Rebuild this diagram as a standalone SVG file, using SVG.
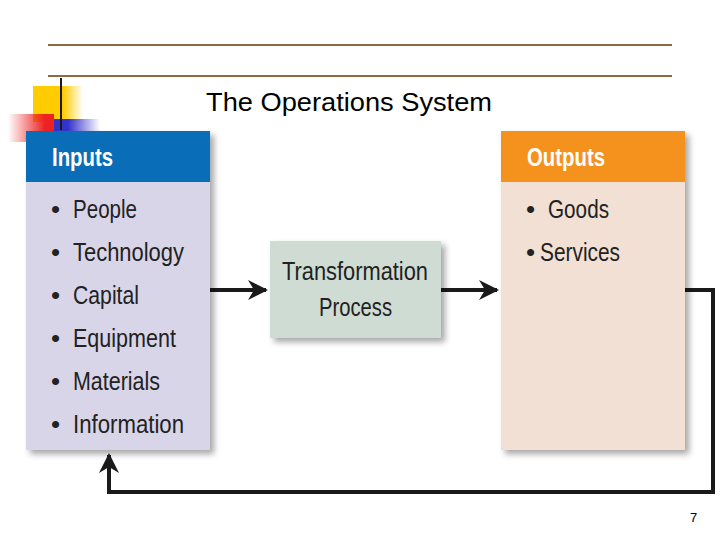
<svg xmlns="http://www.w3.org/2000/svg" width="720" height="540" viewBox="0 0 720 540">
<defs>
<style>
.hd{font-family:"Liberation Sans",Arial,sans-serif;font-weight:bold;font-size:25px;fill:#fff}
.it{font-family:"Liberation Sans",Arial,sans-serif;font-size:26px;fill:#222}
.ln{stroke:#1a1a1a;stroke-width:4;fill:none}
</style>
<linearGradient id="gy" x1="0" x2="1"><stop offset="0.6" stop-color="#ffcc00"/><stop offset="1" stop-color="#ffcc00" stop-opacity="0"/></linearGradient>
<linearGradient id="gr" x1="1" x2="0"><stop offset="0.2" stop-color="#ee2222"/><stop offset="1" stop-color="#ee2222" stop-opacity="0"/></linearGradient>
<linearGradient id="gb" x1="0" x2="1"><stop offset="0.3" stop-color="#3333cc"/><stop offset="1" stop-color="#3333cc" stop-opacity="0"/></linearGradient>
<filter id="sh" x="-10%" y="-10%" width="125%" height="125%"><feDropShadow dx="4" dy="4" stdDeviation="3" flood-color="#000" flood-opacity="0.35"/></filter>
<marker id="ar" viewBox="0 0 10 10" refX="9" refY="5" markerWidth="5" markerHeight="5" orient="auto"><path d="M0,0 L10,5 L0,10 L3,5 z" fill="#1a1a1a"/></marker>
</defs>
<rect width="720" height="540" fill="#fff"/>
<line x1="48" y1="45" x2="672" y2="45" stroke="#8b6a47" stroke-width="2"/>
<line x1="48" y1="76" x2="672" y2="76" stroke="#8b6a47" stroke-width="2"/>
<rect x="33" y="86" width="50" height="36" fill="url(#gy)"/>
<rect x="8" y="114" width="46" height="28" fill="url(#gr)"/>
<rect x="54" y="119" width="46" height="12" fill="url(#gb)"/>
<line x1="61" y1="78" x2="61" y2="130" stroke="#1a1a1a" stroke-width="2"/>
<text x="206" y="111" textLength="286" lengthAdjust="spacingAndGlyphs" font-family="Liberation Sans,Arial,sans-serif" font-size="26">The Operations System</text>
<g id="connectors">
<line class="ln" x1="210" y1="290" x2="266" y2="290" marker-end="url(#ar)"/>
<line class="ln" x1="441" y1="290" x2="497" y2="290" marker-end="url(#ar)"/>
<polyline class="ln" points="685,290 713,290 713,492 109,492 109,455" marker-end="url(#ar)"/>
</g>
<g id="inputs">
<rect x="26" y="131" width="184" height="319" fill="#d9d5e8" filter="url(#sh)"/>
<rect x="26" y="131" width="184" height="51" fill="#0a6db8"/>
<text class="hd" x="52" y="166" textLength="61" lengthAdjust="spacingAndGlyphs">Inputs</text>
<g class="it">
<text x="51" y="218">•</text><text x="73" y="218" textLength="64" lengthAdjust="spacingAndGlyphs">People</text>
<text x="51" y="261">•</text><text x="73" y="261" textLength="111" lengthAdjust="spacingAndGlyphs">Technology</text>
<text x="51" y="304">•</text><text x="73" y="304" textLength="66" lengthAdjust="spacingAndGlyphs">Capital</text>
<text x="51" y="347">•</text><text x="73" y="347" textLength="103" lengthAdjust="spacingAndGlyphs">Equipment</text>
<text x="51" y="390">•</text><text x="73" y="390" textLength="87" lengthAdjust="spacingAndGlyphs">Materials</text>
<text x="51" y="433">•</text><text x="73" y="433" textLength="111" lengthAdjust="spacingAndGlyphs">Information</text>
</g>
</g>
<g id="transformation">
<rect x="270" y="241" width="171" height="97" fill="#cfdcd4" filter="url(#sh)"/>
<text class="it" x="282" y="280" textLength="146" lengthAdjust="spacingAndGlyphs">Transformation</text>
<text class="it" x="319" y="316" textLength="73" lengthAdjust="spacingAndGlyphs">Process</text>
</g>
<g id="outputs">
<rect x="501" y="131" width="184" height="319" fill="#f2e0d4" filter="url(#sh)"/>
<rect x="501" y="131" width="184" height="51" fill="#f5921e"/>
<text class="hd" x="527" y="166" textLength="78" lengthAdjust="spacingAndGlyphs">Outputs</text>
<text class="it" x="526" y="218">•</text><text class="it" x="548" y="218" textLength="61" lengthAdjust="spacingAndGlyphs">Goods</text>
<text class="it" x="526" y="261">•</text><text class="it" x="540" y="261" textLength="80" lengthAdjust="spacingAndGlyphs">Services</text>
</g>
<text x="690" y="522" font-family="Liberation Sans,Arial,sans-serif" font-size="13">7</text>
</svg>
